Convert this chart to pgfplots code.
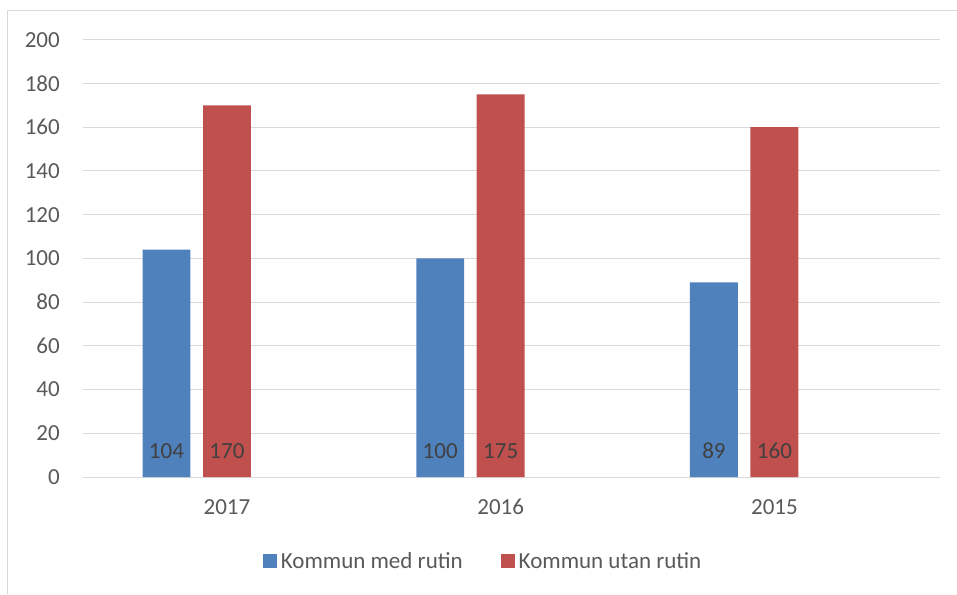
\documentclass[border=0pt]{standalone}
\usepackage{pgfplots}
\pgfplotsset{compat=1.18}
\usepackage{fontspec}
\setmainfont{Carlito}
\definecolor{barblue}{HTML}{4F81BD}
\definecolor{barred}{HTML}{C0504D}
\definecolor{gridc}{HTML}{D9D9D9}
\definecolor{txt}{HTML}{595959}
\definecolor{lbl}{HTML}{404040}
\begin{document}
\begin{tikzpicture}[x=1pt,y=1pt]
\path[use as bounding box] (0,0) rectangle (957,594);
\draw[gridc, line width=1pt] (7,0) -- (7,583.5) -- (957,583.5);
\begin{axis}[
  at={(83pt,117pt)}, anchor=south west,
  scale only axis, width=857pt, height=437.3pt,
  ymin=0, ymax=200, xmin=-0.526, xmax=2.605,
  ytick={0,20,...,200},
  xtick={0,1,2}, xticklabels={2017,2016,2015},
  axis line style={draw=none}, major tick length=0pt,
  ymajorgrids, grid style={gridc, line width=1pt},
  /pgf/number format/assume math mode=true,
  font=\fontsize{23}{27}\selectfont,
  tick label style={text=txt, font=\fontsize{23}{27}\selectfont},
  yticklabel style={anchor=east, inner sep=0pt, xshift=-23pt},
  xticklabel style={anchor=north, inner sep=0pt, yshift=-22pt},
  ybar, bar width=0.175,
  visualization depends on=rawy \as \rawy,
  nodes near coords,
  every node near coord/.append style={anchor=center, text=lbl, inner sep=0pt,
     font=\fontsize{23}{27}\selectfont, yshift={(26-2.1865*\rawy)*1pt}},
  legend style={at={(0.468,-0.192)}, anchor=center, draw=none, fill=none,
     legend columns=2, font=\fontsize{23}{27}\selectfont, text=txt,
     /tikz/every even column/.append style={column sep=35pt},
     nodes={inner sep=3.5pt}},
  legend cell align=left,
]
\addplot[fill=barblue, draw=none, bar shift=-0.221,
  legend image code/.code={\fill[barblue] (0pt,-7pt) rectangle (14pt,7pt);}]
  coordinates {(0,104) (1,100) (2,89)};
\addplot[fill=barred, draw=none, bar shift=0,
  legend image code/.code={\fill[barred] (0pt,-7pt) rectangle (14pt,7pt);}]
  coordinates {(0,170) (1,175) (2,160)};
\legend{Kommun med rutin, Kommun utan rutin}
\end{axis}
\end{tikzpicture}
\end{document}
